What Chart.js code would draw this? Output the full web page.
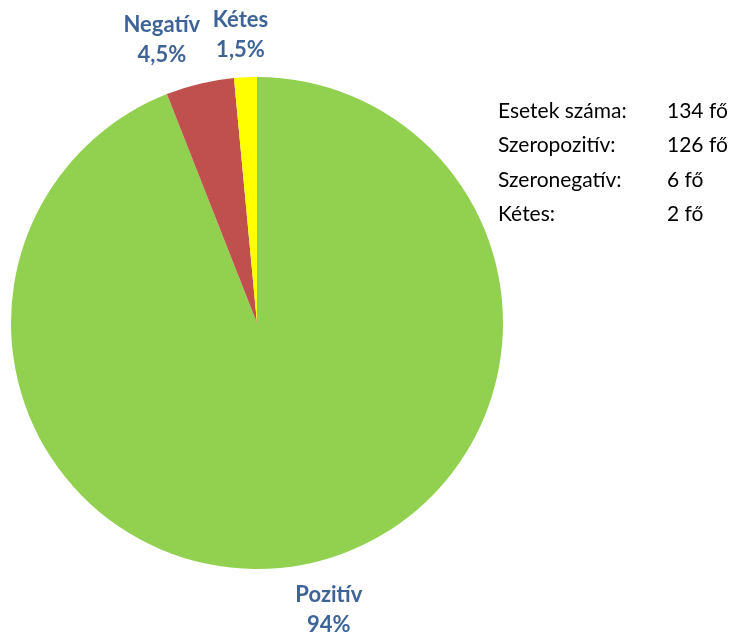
<!DOCTYPE html>
<html><head><meta charset="utf-8">
<script src="https://cdn.jsdelivr.net/npm/chart.js@4/dist/chart.umd.min.js"></script>
<style>
html,body{margin:0;padding:0;background:#fff;}
#wrap{position:relative;width:746px;height:637px;}
#info{position:absolute;left:498px;top:92px;font-family:Lato,"Noto Sans",sans-serif;font-size:21px;color:#000;border-collapse:collapse;}
#info td{padding:0;height:34.5px;vertical-align:middle;white-space:nowrap;}
</style></head>
<body><div id="wrap"><canvas id="c" width="746" height="637"></canvas>
<table id="info"></table></div>
<script>
const categories = ["Pozitív", "Negatív", "Kétes"];
const values = [126, 6, 2];
const percentLabels = ["94%", "4,5%", "1,5%"];
const infoLabels = ["Esetek száma:", "Szeropozitív:", "Szeronegatív:", "Kétes:"];
const infoValues = ["134 fő", "126 fő", "6 fő", "2 fő"];

const tbl = document.getElementById('info');
infoLabels.forEach((l,i)=>{
  const tr=document.createElement('tr');
  const a=document.createElement('td'); a.textContent=l; a.style.width='169px';
  const b=document.createElement('td'); b.textContent=infoValues[i];
  tr.appendChild(a); tr.appendChild(b); tbl.appendChild(tr);
});

const labelOffsets = [[26,45],[-38,-44],[-5,-42]];
const labelPlugin = {
  id:'pieLabels',
  afterDatasetsDraw(chart){
    const ctx=chart.ctx;
    const meta=chart.getDatasetMeta(0);
    ctx.save();
    ctx.font='bold 22px Lato, "Noto Sans", sans-serif';
    ctx.fillStyle='#3E6497';
    ctx.textAlign='center';
    ctx.textBaseline='middle';
    meta.data.forEach((arc,i)=>{
      const mid=(arc.startAngle+arc.endAngle)/2;
      const px=arc.x+Math.cos(mid)*arc.outerRadius+labelOffsets[i][0];
      const py=arc.y+Math.sin(mid)*arc.outerRadius+labelOffsets[i][1];
      ctx.fillText(categories[i], px, py-15);
      ctx.fillText(percentLabels[i], px, py+15);
    });
    ctx.restore();
  }
};

new Chart(document.getElementById('c'),{
  type:'pie',
  data:{labels:categories,datasets:[{data:values,backgroundColor:['#92D050','#C0504D','#FFFF00'],borderWidth:0}]},
  options:{
    responsive:false,animation:false,
    layout:{padding:{left:11,right:243,top:77,bottom:68}},
    plugins:{legend:{display:false},tooltip:{enabled:false}}
  },
  plugins:[labelPlugin]
});
</script></body></html>
